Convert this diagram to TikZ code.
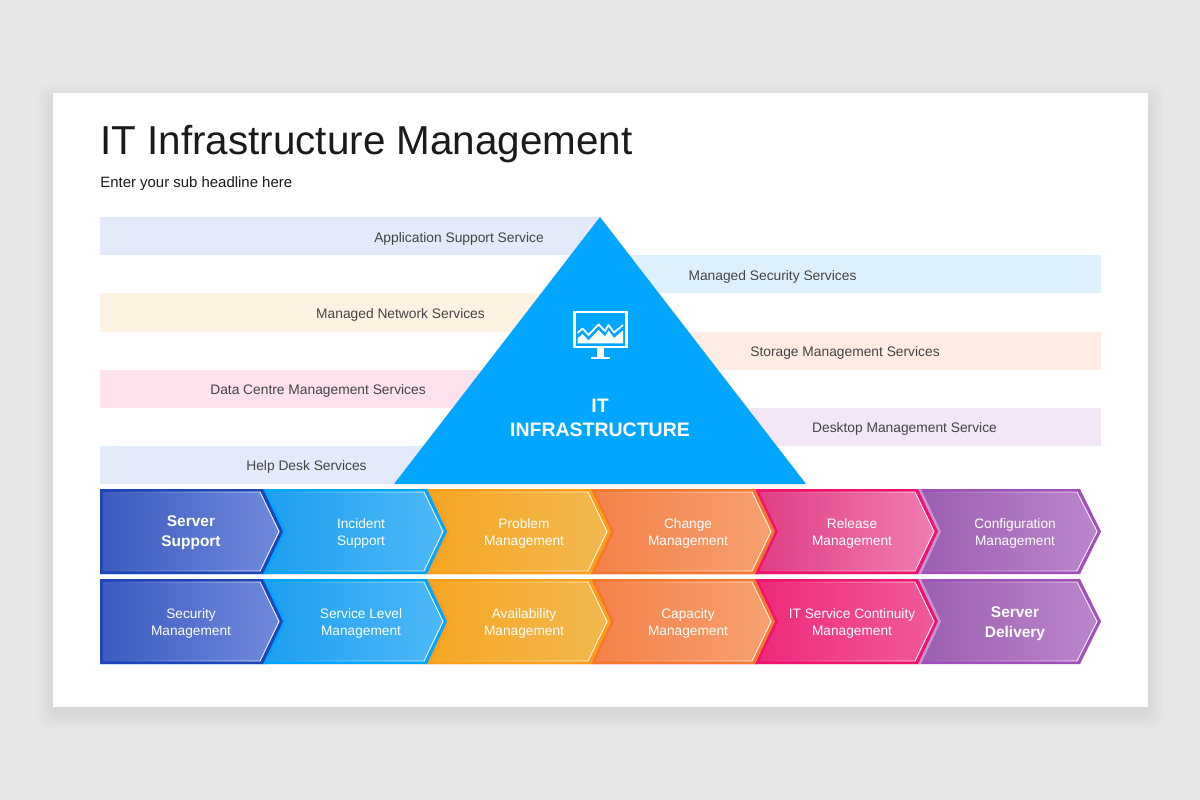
\documentclass[tikz,border=0pt]{standalone}
\usepackage{fontspec}
\setmainfont{Liberation Sans}
\usetikzlibrary{fadings}
\definecolor{bgc}{HTML}{E9E7E8}
\definecolor{tri}{HTML}{00A6FF}
\definecolor{bandA}{HTML}{E3EAF9}\definecolor{bandB}{HTML}{DFF0FD}\definecolor{bandC}{HTML}{FEF3E2}
\definecolor{bandD}{HTML}{FEECE5}\definecolor{bandE}{HTML}{FDE1EC}\definecolor{bandF}{HTML}{F1E7F6}
\definecolor{txt}{HTML}{444444}\definecolor{ttl}{HTML}{1A1A1A}
\definecolor{bluB}{HTML}{1F45B8}\definecolor{bluL}{HTML}{3A5CBF}\definecolor{bluR}{HTML}{7089DC}
\definecolor{cyaB}{HTML}{00A5FF}\definecolor{cyaL}{HTML}{1E9FEF}\definecolor{cyaR}{HTML}{4DB8F8}
\definecolor{oraB}{HTML}{FA9F1B}\definecolor{oraL}{HTML}{F5A623}\definecolor{oraR}{HTML}{F2B84F}
\definecolor{corB}{HTML}{F5782F}\definecolor{corL}{HTML}{F4824A}\definecolor{corR}{HTML}{F7A070}
\definecolor{pnkB}{HTML}{F0146E}\definecolor{pnkL}{HTML}{E03E85}\definecolor{pnkR}{HTML}{F07DB0}
\definecolor{pn2L}{HTML}{EE2A7B}\definecolor{pn2R}{HTML}{F05A98}
\definecolor{purB}{HTML}{A050B8}\definecolor{purL}{HTML}{9C5FB0}\definecolor{purR}{HTML}{BB85CC}
\tikzset{
 bandlabel/.style={font=\fontsize{7.85pt}{10pt}\selectfont,text=txt,inner sep=0pt,anchor=center},
 chevlabel/.style={font=\fontsize{7.8pt}{9.65pt}\selectfont,text=white,align=center,inner sep=0pt,anchor=center},
 chevbold/.style={font=\bfseries\fontsize{8.8pt}{11.35pt}\selectfont,text=white,align=center,inner sep=0pt,anchor=center},
}
% args: left x, shoulder x, tip x, top y, bottom y, border colour, grad left, grad right, halo colour
\newcommand{\chevcell}[9]{%
 \pgfmathsetmacro{\midy}{(#4+#5)/2}
 \fill[#9] (#1,#4) -- (#2+3,#4) -- (#3+3,\midy) -- (#2+3,#5) -- (#1,#5) -- cycle;
 \fill[#6] (#1,#4) -- (#2,#4) -- (#3,\midy) -- (#2,#5) -- (#1,#5) -- cycle;
 \shade[left color=#7,right color=#8,shading angle=90] (#1+3,#4+3) -- (#2-3,#4+3) -- (#3-4,\midy) -- (#2-3,#5-3) -- (#1+3,#5-3) -- cycle;
 \draw[white,line width=.5pt,path fading=west,fit fading=true] (#1+3,#4+3) -- (#2-3,#4+3) -- (#3-4,\midy) -- (#2-3,#5-3) -- (#1+3,#5-3);
}
\begin{document}
\begin{tikzpicture}[x=0.02cm,y=-0.02cm]
\useasboundingbox (0,0) rectangle (1200,800);
\fill[bgc] (0,0) rectangle (1200,800);
% card shadow
\foreach \s in {1,...,16}{
 \fill[black,opacity=.003,rounded corners=0.2cm] (53-\s,93-\s+6) rectangle (1148+\s,707+\s+6);
}
\fill[white] (53,93) rectangle (1148,707);
\node[anchor=west,inner sep=0pt,text=ttl,font=\fontsize{23pt}{26pt}\selectfont] (title) at (100,144) {IT Infrastructure Management};
\node[anchor=west,inner sep=0pt,text=ttl,font=\fontsize{8.5pt}{10pt}\selectfont] (sub) at (100,184) {Enter your sub headline here};
% bands
\fill[bandA] (100,217) rectangle (600,255);
\fill[bandC] (100,293) rectangle (600,332);
\fill[bandE] (100,370) rectangle (600,408);
\fill[bandA] (100,446) rectangle (600,484);
\fill[bandB] (600,255) rectangle (1101,293);
\fill[bandD] (600,332) rectangle (1101,370);
\fill[bandF] (600,408) rectangle (1101,446);
% triangle
\fill[tri] (600,217) -- (806,484) -- (394,484) -- cycle;
% monitor icon
\draw[white,line width=1.15pt] (574.5,312) rectangle (626.5,347);
\fill[white] (597,348) rectangle (604,357);
\fill[white] (591,357) rectangle (610,359.5);
\draw[white,line width=1pt,line join=round] (577.5,333) -- (582.5,328.5) -- (588.5,335) -- (598.5,324.5) -- (605,331) -- (608.5,325) -- (614,332.5) -- (623,325);
\fill[white] (577.5,343.5) -- (577.5,338.5) -- (582.5,334) -- (588.5,340.5) -- (598.5,330) -- (605,336.5) -- (608.5,330.5) -- (614,338) -- (623,330.5) -- (623,343.5) -- cycle;
\node[inner sep=0pt,text=white,align=center,font=\bfseries\fontsize{11.1pt}{14.1pt}\selectfont] (tritext) at (600,418) {IT\\INFRASTRUCTURE};
% band labels
\node[bandlabel] (l1) at (459,238.5) {Application Support Service};
\node[bandlabel] (r1) at (772.5,276.5) {Managed Security Services};
\node[bandlabel] (l2) at (400.5,314.5) {Managed Network Services};
\node[bandlabel] (r2) at (845,352.5) {Storage Management Services};
\node[bandlabel] (l3) at (318,390.5) {Data Centre Management Services};
\node[bandlabel] (r3) at (904.5,428.5) {Desktop Management Service};
\node[bandlabel] (l4) at (306.5,466.5) {Help Desk Services};
% row 1, painted right to left so each tip overlaps its neighbour
\chevcell{918}{1080}{1101}{489}{574}{purB}{purL}{purR}{white}
\chevcell{755}{918}{938}{489}{574}{pnkB}{pnkL}{pnkR}{purB!60!white}
\chevcell{591}{755}{775}{489}{574}{corB}{corL}{corR}{pnkB}
\chevcell{427}{591}{611}{489}{574}{oraB}{oraL}{oraR}{corB}
\chevcell{263}{427}{447}{489}{574}{cyaB}{cyaL}{cyaR}{oraB}
\chevcell{100}{263}{283}{489}{574}{bluB}{bluL}{bluR}{cyaB}
% row 2
\chevcell{918}{1080}{1101}{579}{664}{purB}{purL}{purR}{white}
\chevcell{755}{918}{938}{579}{664}{pnkB}{pn2L}{pn2R}{purB!60!white}
\chevcell{591}{755}{775}{579}{664}{corB}{corL}{corR}{pnkB}
\chevcell{427}{591}{611}{579}{664}{oraB}{oraL}{oraR}{corB}
\chevcell{263}{427}{447}{579}{664}{cyaB}{cyaL}{cyaR}{oraB}
\chevcell{100}{263}{283}{579}{664}{bluB}{bluL}{bluR}{cyaB}
% chevron labels
\node[chevlabel] (a2) at (361,533) {Incident\\Support};
\node[chevbold] (a1) at (191,533) {Server\\Support};
\node[chevlabel] (a3) at (524,533) {Problem\\Management};
\node[chevlabel] (a4) at (688,533) {Change\\Management};
\node[chevlabel] (a5) at (852,533) {Release\\Management};
\node[chevlabel] (a6) at (1015,533) {Configuration\\Management};
\node[chevlabel] (b1) at (191,623.5) {Security\\Management};
\node[chevlabel] (b2) at (361,623.5) {Service Level\\Management};
\node[chevlabel] (b3) at (524,623.5) {Availability\\Management};
\node[chevlabel] (b4) at (688,623.5) {Capacity\\Management};
\node[chevlabel] (b5) at (852,623.5) {IT Service Continuity\\Management};
\node[chevbold] (b6) at (1015,623.5) {Server\\Delivery};
\end{tikzpicture}
\end{document}
